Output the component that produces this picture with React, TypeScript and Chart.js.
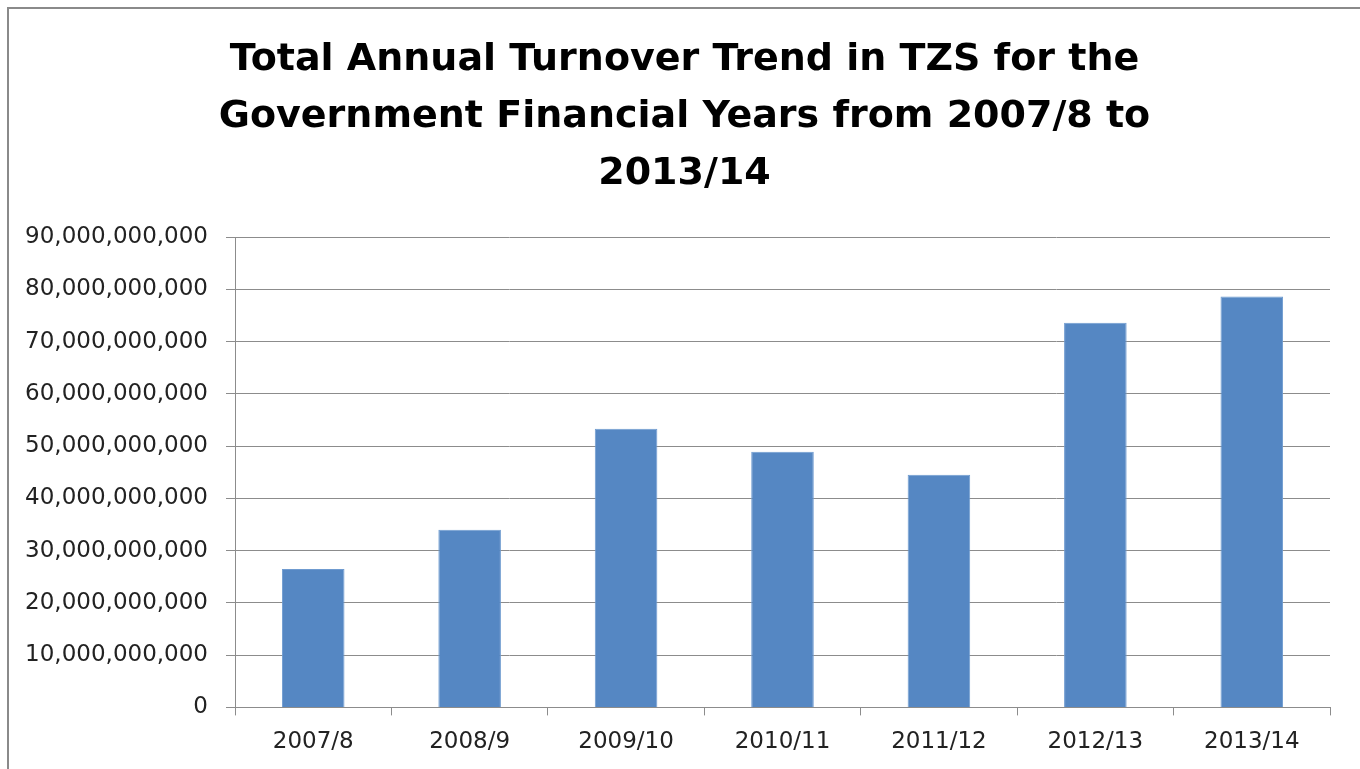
import React, { useEffect, useRef } from "react";
import { Chart, registerables } from "chart.js";

Chart.register(...registerables);

const categories = ["2007/8", "2008/9", "2009/10", "2010/11", "2011/12", "2012/13", "2013/14"];
const turnover = [26500000000, 34000000000, 53300000000, 48900000000, 44500000000, 73600000000, 78600000000];
const titleLines = [
  "Total Annual Turnover Trend in TZS for the",
  "Government Financial Years from 2007/8 to",
  "2013/14",
];
const yMax = 90000000000;
const yStep = 10000000000;

export default function App() {
  const ref = useRef<HTMLCanvasElement | null>(null);

  useEffect(() => {
    if (!ref.current) return;
    const chart = new Chart(ref.current, {
      type: "bar",
      data: {
        labels: categories,
        datasets: [
          {
            label: "Turnover",
            data: turnover,
            backgroundColor: "#5587C3",
            borderColor: "#6F9BD0",
            borderWidth: 1,
            categoryPercentage: 1,
            barPercentage: 0.4,
          },
        ],
      },
      options: {
        responsive: false,
        animation: false,
        layout: { padding: { left: 0, right: 0, top: 0, bottom: 0 } },
        plugins: {
          legend: { display: false },
          tooltip: { enabled: false },
          title: {
            display: true,
            text: titleLines,
            color: "#000000",
            font: { family: "'DejaVu Sans'", size: 38, weight: "bold", lineHeight: 1.5 },
            padding: { top: 23, bottom: 34 },
          },
        },
        scales: {
          x: {
            grid: {
              display: true,
              drawOnChartArea: false,
              drawTicks: true,
              tickLength: 8,
              color: "#8c8c8c",
              offset: true,
            },
            border: { display: true, color: "#8c8c8c", width: 1 },
            ticks: {
              color: "#222222",
              font: { family: "'DejaVu Sans'", size: 23 },
              padding: 13,
              maxRotation: 0,
            },
          },
          y: {
            min: 0,
            max: yMax,
            afterFit: (scale: any) => {
              scale.width = 226;
            },
            grid: {
              color: "#8c8c8c",
              lineWidth: 1,
              tickLength: 9,
            },
            border: { display: true, color: "#8c8c8c", width: 1 },
            ticks: {
              stepSize: yStep,
              color: "#222222",
              font: { family: "'DejaVu Sans'", size: 23 },
              padding: 18,
              callback: (v: any) => Number(v).toLocaleString("en-US"),
            },
          },
          spacer: {
            type: "linear",
            position: "right",
            display: true,
            min: 0,
            max: yMax,
            afterFit: (scale: any) => {
              scale.width = 30;
            },
            grid: { drawOnChartArea: false, drawTicks: false, display: false },
            border: { display: false },
            ticks: { display: false },
          },
        },
      },
    });
    return () => chart.destroy();
  }, []);

  return (
    <div
      style={{
        position: "absolute",
        left: 7,
        top: 7,
        width: 1400,
        height: 800,
        borderLeft: "2px solid #8a8a8a",
        borderTop: "2px solid #8a8a8a",
        background: "#ffffff",
      }}
    >
      <canvas ref={ref} width={1351} height={760} style={{ display: "block" }} />
    </div>
  );
}
